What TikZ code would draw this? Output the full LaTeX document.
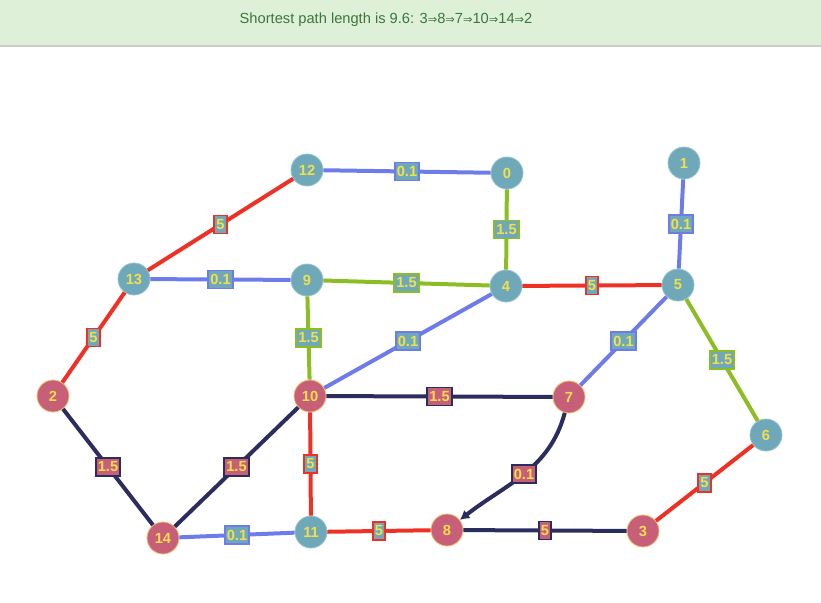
\documentclass[tikz,border=0pt]{standalone}
\usepackage{fontspec}
\setmainfont{Liberation Sans}
\newfontfamily\arrowfont{DejaVu Sans}
\usetikzlibrary{arrows.meta}

\definecolor{tealn}{HTML}{6FA9B9}
\definecolor{tealb}{HTML}{93C3CF}
\definecolor{pinkn}{HTML}{C85F78}
\definecolor{pinkb}{HTML}{F2C16A}
\definecolor{numc}{HTML}{F2DF4C}
\definecolor{redl}{HTML}{EE3124}
\definecolor{bluel}{HTML}{6E7CEA}
\definecolor{greenl}{HTML}{8CBD24}
\definecolor{navyl}{HTML}{2B2D5E}
\definecolor{headbg}{HTML}{DFF0D8}
\definecolor{headtx}{HTML}{3C763D}

\newcommand{\ra}{{\arrowfont\fontsize{8.5}{9}\selectfont ⇒}}

\tikzset{
	vtx/.style={circle, fill=tealn, draw=tealb, line width=0.6pt, minimum size=24pt,
		inner sep=0pt, text=numc, font=\bfseries\fontsize{11}{11}\selectfont},
	onpath/.style={vtx, fill=pinkn, draw=pinkb},
	wt/.style={rectangle, fill=tealn, draw=#1, line width=1.4pt, inner xsep=1.6pt,
		inner ysep=0pt, minimum height=13.5pt, text=numc, font=\bfseries\fontsize{11}{11}\selectfont},
	wtp/.style={wt=navyl, fill=pinkn},
	edge/.style={line width=3pt, draw=#1},
}

\begin{document}
\begin{tikzpicture}[x=0.75pt, y=-0.75pt]
	\useasboundingbox (0,0) rectangle (821,603);
	% header
	\fill [headbg] (0,0) rectangle (821,45);
	\draw [black!20, line width=0.8pt] (0,46) -- (821,46);
	\node [anchor=west, text=headtx, font=\fontsize{11}{13}\selectfont] (head) at (235,20)
		{Shortest path length is 9.6: 3\ra8\ra7\ra10\ra14\ra2};

	% vertices
	\node [vtx] (v0) at (507,173) {0};
	\node [vtx] (v1) at (684,163) {1};
	\node [onpath] (v2) at (53,396) {2};
	\node [onpath] (v3) at (643,531) {3};
	\node [vtx] (v4) at (506,286) {4};
	\node [vtx] (v5) at (678,285) {5};
	\node [vtx] (v6) at (766,435) {6};
	\node [onpath] (v7) at (569,397) {7};
	\node [onpath] (v8) at (447,530) {8};
	\node [vtx] (v9) at (307,280) {9};
	\node [onpath] (v10) at (310,396) {10};
	\node [vtx] (v11) at (311,532) {11};
	\node [vtx] (v12) at (307,170) {12};
	\node [vtx] (v13) at (134,279) {13};
	\node [onpath] (v14) at (163,538) {14};

	% blue edges
	\draw [edge=bluel] (v12) -- node [wt=bluel] (w12-0) {0.1} (v0);
	\draw [edge=bluel] (v13) -- node [wt=bluel] (w13-9) {0.1} (v9);
	\draw [edge=bluel] (v1) -- node [wt=bluel] (w1-5) {0.1} (v5);
	\draw [edge=bluel] (v4) -- node [wt=bluel] (w4-10) {0.1} (v10);
	\draw [edge=bluel] (v5) -- node [wt=bluel] (w5-7) {0.1} (v7);
	\draw [edge=bluel] (v14) -- node [wt=bluel] (w14-11) {0.1} (v11);
	% green edges
	\draw [edge=greenl] (v0) -- node [wt=greenl] (w0-4) {1.5} (v4);
	\draw [edge=greenl] (v9) -- node [wt=greenl] (w9-4) {1.5} (v4);
	\draw [edge=greenl] (v9) -- node [wt=greenl] (w9-10) {1.5} (v10);
	\draw [edge=greenl] (v5) -- node [wt=greenl] (w5-6) {1.5} (v6);
	% red edges
	\draw [edge=redl] (v12) -- node [wt=redl] (w12-13) {5} (v13);
	\draw [edge=redl] (v4) -- node [wt=redl] (w4-5) {5} (v5);
	\draw [edge=redl] (v13) -- node [wt=redl] (w13-2) {5} (v2);
	\draw [edge=redl] (v10) -- node [wt=redl] (w10-11) {5} (v11);
	\draw [edge=redl] (v6) -- node [wt=redl] (w6-3) {5} (v3);
	\draw [edge=redl] (v11) -- node [wt=redl] (w11-8) {5} (v8);
	% shortest path
	\draw [edge=navyl] (v10) -- node [wtp] (w10-7) {1.5} (v7);
	\draw [edge=navyl] (v2) -- node [wtp] (w2-14) {1.5} (v14);
	\draw [edge=navyl] (v14) -- node [wtp] (w14-10) {1.5} (v10);
	\draw [edge=navyl] (v8) -- node [wtp] (w8-3) {5} (v3);
	\draw [edge=navyl, -{Latex[length=7pt, width=8pt]}] (v7) to [out=-105, in=38]
		node [wtp, pos=0.5] (w7-8) {0.1} (v8);
\end{tikzpicture}
\end{document}
